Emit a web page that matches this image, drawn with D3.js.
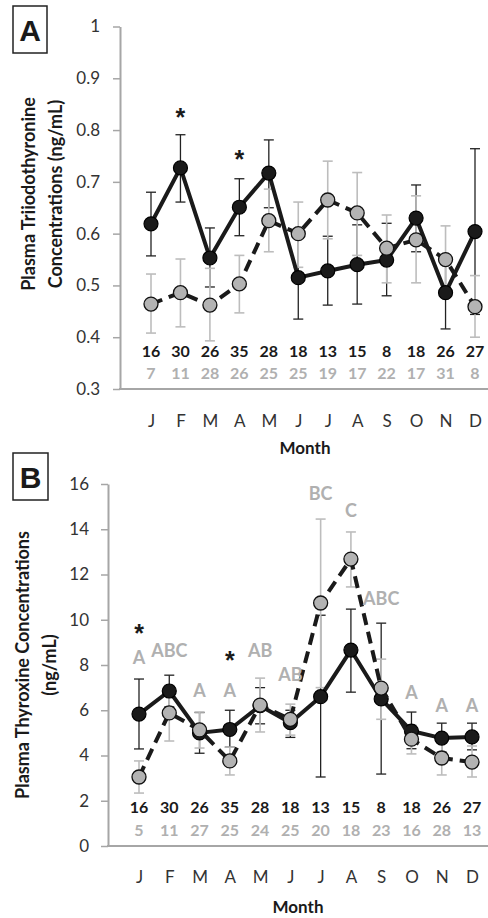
<!DOCTYPE html>
<html>
<head>
<meta charset="utf-8">
<script src="https://cdn.jsdelivr.net/npm/d3@7"></script>
<style>
  body { margin: 0; background: #fff; }
  svg { display: block; font-family: Lato, "Open Sans", sans-serif; }
</style>
</head>
<body>
<svg id="chart" width="488" height="918"></svg>
<script>

// months on the x-axis
const months = ['J', 'F', 'M', 'A', 'M', 'J', 'J', 'A', 'S', 'O', 'N', 'D'];

// panel A, triiodothyronine (ng/mL)
const t3Black = [0.619, 0.727, 0.553, 0.651, 0.717, 0.515, 0.528, 0.540, 0.549, 0.630, 0.486, 0.604];
const t3BlackHi = [0.680, 0.791, 0.611, 0.706, 0.781, 0.595, 0.595, 0.617, 0.620, 0.694, 0.556, 0.764];
const t3BlackLo = [0.557, 0.661, 0.497, 0.596, 0.650, 0.435, 0.462, 0.464, 0.480, 0.565, 0.416, 0.444];
const t3Gray = [0.464, 0.486, 0.462, 0.503, 0.625, 0.600, 0.665, 0.640, 0.572, 0.588, 0.550, 0.459];
const t3GrayHi = [0.522, 0.551, 0.533, 0.558, 0.686, 0.661, 0.740, 0.718, 0.636, 0.673, 0.615, 0.519];
const t3GrayLo = [0.408, 0.420, 0.393, 0.447, 0.565, 0.535, 0.590, 0.558, 0.505, 0.505, 0.485, 0.400];
const t3NBlack = [16, 30, 26, 35, 28, 18, 13, 15, 8, 18, 26, 27];
const t3NGray = [7, 11, 28, 26, 25, 25, 19, 17, 22, 17, 31, 8];
const t3Ticks = [0.3, 0.4, 0.5, 0.6, 0.7, 0.8, 0.9, 1];
// asterisks: month index and level (data units)
const t3Stars = [[1, 0.835], [3, 0.754]];

// panel B, thyroxine (ng/mL)
const t4Black = [5.83, 6.85, 5.00, 5.15, 6.20, 5.45, 6.60, 8.66, 6.50, 5.08, 4.77, 4.82];
const t4BlackHi = [7.38, 7.55, 5.90, 6.00, 7.00, 6.00, 10.20, 10.47, 9.85, 5.92, 5.43, 5.43];
const t4BlackLo = [4.29, 6.15, 4.10, 4.37, 5.40, 4.80, 3.05, 6.80, 3.18, 4.30, 4.15, 4.25];
const t4Gray = [3.05, 5.88, 5.13, 3.76, 6.23, 5.60, 10.74, 12.68, 6.98, 4.72, 3.89, 3.71];
const t4GrayHi = [3.76, 7.10, 5.92, 4.37, 7.42, 6.27, 14.45, 13.88, 8.26, 5.35, 4.60, 4.42];
const t4GrayLo = [2.34, 4.64, 4.33, 3.14, 5.04, 4.90, 7.00, 11.45, 5.60, 4.07, 3.14, 3.05];
const t4NBlack = [16, 30, 26, 35, 28, 18, 13, 15, 8, 18, 26, 27];
const t4NGray = [5, 11, 27, 25, 24, 25, 20, 18, 23, 16, 28, 13];
const t4Ticks = [0, 2, 4, 6, 8, 10, 12, 14, 16];
const t4Letters = ['A', 'ABC', 'A', 'A', 'AB', 'AB', 'BC', 'C', 'ABC', 'A', 'A', 'A'];
// level of each letter group (data units)
const t4LetterAt = [8.31, 8.66, 6.89, 6.89, 8.66, 7.60, 15.60, 14.85, 10.96, 6.80, 6.19, 6.19];
const t4Stars = [[0, 9.63], [3, 8.44]];

const svg = d3.select('#chart');
const dark = '#1a1a1a';
const grayText = '#b0b0b0';

drawPanel({
  label: 'A',
  box: [13, 6, 34, 47],
  axisX: 120,
  xRange: [151, 475],
  yDomain: [0.3, 1],
  yRange: [389, 26.5],
  ticks: t3Ticks,
  fmt: d => d === 1 ? '1' : d.toFixed(1),
  padding: 13,
  title: ['Plasma Triiodothyronine', 'Concentrations (ng/mL)'],
  titleX: [35, 62],
  titleY: 194,
  black: [t3Black, t3BlackHi, t3BlackLo],
  gray: [t3Gray, t3GrayHi, t3GrayLo],
  n: [t3NBlack, t3NGray],
  nY: [357, 379],
  monthPad: 26,
  monthTitle: [305, 454],
  stars: t3Stars
});

drawPanel({
  label: 'B',
  box: [13, 453, 35, 47],
  axisX: 108,
  xRange: [139, 472],
  yDomain: [0, 16],
  yRange: [846, 484],
  ticks: t4Ticks,
  fmt: d3.format('d'),
  padding: 12,
  title: ['Plasma Thyroxine Concentrations', '(ng/mL)'],
  titleX: [29, 56],
  titleY: 665,
  black: [t4Black, t4BlackHi, t4BlackLo],
  gray: [t4Gray, t4GrayHi, t4GrayLo],
  n: [t4NBlack, t4NGray],
  nY: [813, 836],
  monthPad: 25,
  monthTitle: [298, 913],
  stars: t4Stars,
  letters: t4Letters,
  letterAt: t4LetterAt
});

function drawPanel(p) {
  const g = svg.append('g');
  const x = d3.scalePoint().domain(d3.range(months.length)).range(p.xRange);
  const y = d3.scaleLinear().domain(p.yDomain).range(p.yRange);
  const base = y(p.yDomain[0]);

  // panel letter in a box
  g.append('rect')
    .attr('x', p.box[0])
    .attr('y', p.box[1])
    .attr('width', p.box[2])
    .attr('height', p.box[3])
    .attr('fill', 'none')
    .attr('stroke', '#222')
    .attr('stroke-width', 1.5);
  g.append('text')
    .text(p.label)
    .attr('x', p.box[0] + p.box[2] / 2)
    .attr('y', p.box[1] + p.box[3] / 2 + 11)
    .attr('text-anchor', 'middle')
    .style('font-family', '"Liberation Sans", Arial, sans-serif')
    .style('font-weight', 'bold')
    .style('font-size', '30px')
    .attr('fill', dark);

  // y-axis
  const yAxis = d3.axisLeft(y)
    .tickValues(p.ticks)
    .tickSizeInner(7)
    .tickSizeOuter(0)
    .tickPadding(p.padding)
    .tickFormat(p.fmt);
  const yG = g.append('g')
    .attr('transform', `translate(${p.axisX}, 0)`)
    .call(yAxis);
  yG.select('.domain').attr('stroke', '#a6a6a6').attr('stroke-width', 2);
  yG.selectAll('.tick line').attr('stroke', '#a6a6a6').attr('stroke-width', 1.5);
  yG.selectAll('.tick text')
    .attr('fill', '#333')
    .style('font-size', '17px')
    .style('font-family', 'Lato, sans-serif');

  // x-axis line and month labels
  g.append('line')
    .attr('x1', p.axisX - 1)
    .attr('x2', 488)
    .attr('y1', base)
    .attr('y2', base)
    .attr('stroke', '#a6a6a6')
    .attr('stroke-width', 2);
  const xAxis = d3.axisBottom(x)
    .tickSize(0)
    .tickPadding(p.monthPad)
    .tickFormat(i => months[i]);
  const xG = g.append('g')
    .attr('transform', `translate(0, ${base})`)
    .call(xAxis);
  xG.select('.domain').remove();
  xG.selectAll('.tick text')
    .attr('fill', '#333')
    .style('font-size', '17px')
    .style('font-family', 'Lato, sans-serif');

  g.append('text')
    .text('Month')
    .attr('x', p.monthTitle[0])
    .attr('y', p.monthTitle[1])
    .attr('text-anchor', 'middle')
    .style('font-weight', 'bold')
    .style('font-size', '17px')
    .attr('fill', dark);

  // y-axis title, two rotated lines
  p.title.forEach((t, k) => {
    g.append('text')
      .text(t)
      .attr('transform', `translate(${p.titleX[k]}, ${p.titleY}) rotate(-90)`)
      .attr('text-anchor', 'middle')
      .style('font-weight', 'bold')
      .style('font-size', '18px')
      .attr('fill', dark);
  });

  // sample sizes under the points
  [[p.n[0], dark], [p.n[1], grayText]].forEach(([row, col], k) => {
    g.append('g')
      .selectAll('text')
      .data(row)
      .join('text')
      .text(d => d)
      .attr('x', (d, i) => x(i))
      .attr('y', p.nY[k])
      .attr('text-anchor', 'middle')
      .style('font-weight', 'bold')
      .style('font-size', '16px')
      .attr('fill', col);
  });

  // error bars
  function errorBars(ser, col, w) {
    const eg = g.append('g').attr('stroke', col).attr('stroke-width', w);
    ser[0].forEach((v, i) => {
      const cx = x(i);
      eg.append('line')
        .attr('x1', cx).attr('x2', cx)
        .attr('y1', y(ser[1][i])).attr('y2', y(ser[2][i]));
      eg.append('line')
        .attr('x1', cx - 5).attr('x2', cx + 5)
        .attr('y1', y(ser[1][i])).attr('y2', y(ser[1][i]));
      eg.append('line')
        .attr('x1', cx - 5).attr('x2', cx + 5)
        .attr('y1', y(ser[2][i])).attr('y2', y(ser[2][i]));
    });
  }
  errorBars(p.black, '#222', 1.3);
  errorBars(p.gray, '#bdbdbd', 1.6);

  const line = d3.line()
    .x((d, i) => x(i))
    .y(d => y(d));

  // black series, solid line
  g.append('path')
    .attr('d', line(p.black[0]))
    .attr('fill', 'none')
    .attr('stroke', dark)
    .attr('stroke-width', 4)
    .attr('stroke-linejoin', 'round');
  g.append('g')
    .selectAll('circle')
    .data(p.black[0])
    .join('circle')
    .attr('cx', (d, i) => x(i))
    .attr('cy', d => y(d))
    .attr('r', 7)
    .attr('fill', dark)
    .attr('stroke', '#000')
    .attr('stroke-width', 1.2);

  // gray series, dashed line
  g.append('path')
    .attr('d', line(p.gray[0]))
    .attr('fill', 'none')
    .attr('stroke', dark)
    .attr('stroke-width', 4)
    .attr('stroke-dasharray', '12,7');
  g.append('g')
    .selectAll('circle')
    .data(p.gray[0])
    .join('circle')
    .attr('cx', (d, i) => x(i))
    .attr('cy', d => y(d))
    .attr('r', 7)
    .attr('fill', '#b3b3b3')
    .attr('stroke', '#111')
    .attr('stroke-width', 1.3);

  // significance letters
  if (p.letters) {
    g.append('g')
      .selectAll('text')
      .data(p.letters)
      .join('text')
      .text(d => d)
      .attr('x', (d, i) => x(i))
      .attr('y', (d, i) => y(p.letterAt[i]) + 6.5)
      .attr('text-anchor', 'middle')
      .style('font-weight', 'bold')
      .style('font-size', '18px')
      .attr('fill', grayText);
  }

  // asterisks
  g.append('g')
    .selectAll('text')
    .data(p.stars)
    .join('text')
    .text('*')
    .attr('x', d => x(d[0]))
    .attr('y', d => y(d[1]) + 14)
    .attr('text-anchor', 'middle')
    .style('font-family', '"Liberation Sans", Arial, sans-serif')
    .style('font-weight', 'bold')
    .style('font-size', '25px')
    .attr('fill', dark);
}
</script>
</body>
</html>
